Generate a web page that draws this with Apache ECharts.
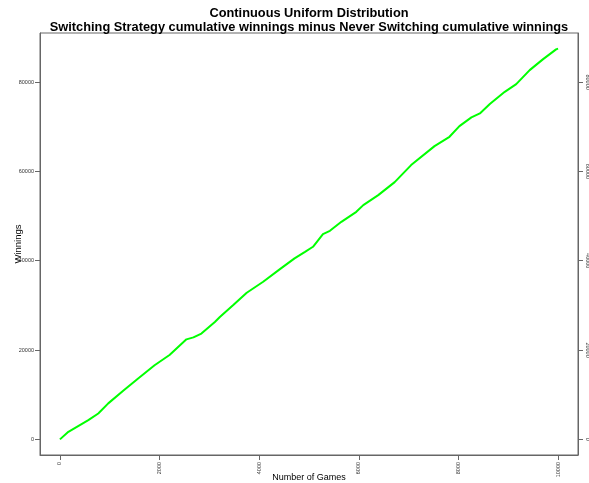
<!DOCTYPE html>
<html>
<head>
<meta charset="utf-8">
<script src="https://cdn.jsdelivr.net/npm/echarts@6/dist/echarts.min.js"></script>
<style>
  html, body { margin: 0; padding: 0; background: #fff; }
  #chart { width: 589px; height: 483px; }
</style>
</head>
<body>
<div id="chart"></div>
<script>
// Cumulative difference in winnings: switching minus never switching
const games = [0, 170, 400, 570, 770, 970, 1270, 1570, 1900, 2200,
  2540, 2680, 2840, 3110, 3210, 3480, 3750, 4080, 4410, 4710,
  4920, 5080, 5280, 5420, 5650, 5950, 6090, 6390, 6720, 7050,
  7520, 7820, 8020, 8260, 8430, 8630, 8930, 9160, 9430, 9700,
  9960, 10000];
const winnings = [0, 1700, 3200, 4300, 5800, 8060, 10900, 13650, 16600, 18900,
  22400, 22840, 23700, 26300, 27400, 30070, 32830, 35290, 38060, 40530,
  42000, 43130, 45970, 46700, 48720, 50960, 52460, 54700, 57600, 61420,
  65670, 67760, 70150, 72100, 72990, 75080, 77830, 79560, 82690, 85150,
  87330, 87500];
const xTicks = [0, 2000, 4000, 6000, 8000, 10000];
const yTicks = [0, 20000, 40000, 60000, 80000];
const titleLines = [
  'Continuous Uniform Distribution',
  'Switching Strategy cumulative winnings minus Never Switching cumulative winnings'
];

const font = '"Liberation Sans", Arial, Helvetica, sans-serif';
const axisGrey = '#666';
const labelGrey = '#333';
const plain = v => String(v);

const chart = echarts.init(document.getElementById('chart'), null, { renderer: 'canvas' });

const yAxisCommon = {
  type: 'value',
  min: -3500,
  max: 91000,
  splitLine: { show: false },
  axisLine: { show: true, onZero: false, lineStyle: { color: axisGrey, width: 1 } },
  axisTick: { show: true, length: 5, lineStyle: { color: axisGrey }, customValues: yTicks },
};

chart.setOption({
  animation: false,
  backgroundColor: '#fff',
  grid: {
    left: 40, right: 11, top: 33, bottom: 28,
    show: true, borderColor: axisGrey, borderWidth: 1,
    containLabel: false, outerBoundsMode: 'none'
  },
  graphic: titleLines.map((t, i) => ({
    type: 'text',
    x: 309,
    y: 13 + i * 14,
    style: {
      text: t,
      fill: '#000',
      font: 'bold 12.8px ' + font,
      textAlign: 'center',
      textVerticalAlign: 'middle'
    }
  })),
  xAxis: {
    type: 'value',
    min: -400,
    max: 10400,
    name: 'Number of Games',
    nameLocation: 'middle',
    nameGap: 18,
    nameMoveOverlap: false,
    nameTextStyle: { fontFamily: font, fontSize: 9, color: '#000' },
    splitLine: { show: false },
    axisLine: { show: true, onZero: false, lineStyle: { color: axisGrey, width: 1 } },
    axisTick: { show: true, length: 5, lineStyle: { color: axisGrey }, customValues: xTicks },
    axisLabel: {
      customValues: xTicks,
      formatter: plain,
      rotate: 90,
      margin: 7,
      fontFamily: font,
      fontSize: 5.5,
      color: labelGrey
    }
  },
  yAxis: [
    Object.assign({}, yAxisCommon, {
      position: 'left',
      name: 'Winnings',
      nameLocation: 'middle',
      nameGap: 17,
      nameMoveOverlap: false,
      nameTextStyle: { fontFamily: font, fontSize: 9.5, color: '#000' },
      axisLabel: {
        customValues: yTicks,
        formatter: plain,
        margin: 6,
        fontFamily: font,
        fontSize: 5.5,
        color: labelGrey
      }
    }),
    Object.assign({}, yAxisCommon, {
      position: 'right',
      axisLabel: {
        customValues: yTicks,
        formatter: plain,
        rotate: -90,
        margin: 7,
        fontFamily: font,
        fontSize: 5.5,
        color: labelGrey
      }
    })
  ],
  series: [{
    type: 'line',
    yAxisIndex: 0,
    showSymbol: false,
    silent: true,
    lineStyle: { color: '#00ff00', width: 2 },
    data: games.map((g, i) => [g, winnings[i]])
  }]
});
</script>
</body>
</html>
